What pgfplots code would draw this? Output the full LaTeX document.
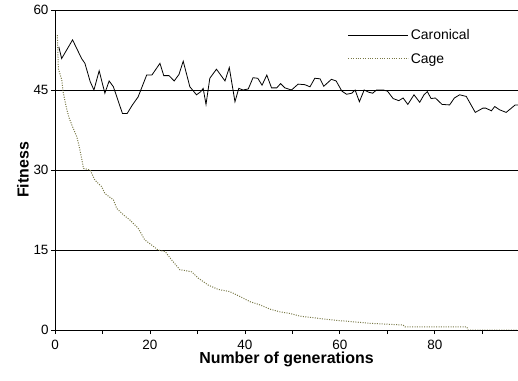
\documentclass[border=0pt]{standalone}
\usepackage{pgfplots}
\pgfplotsset{compat=1.18}
\usepackage{fontspec}
\setmainfont{Liberation Sans}
\definecolor{cagecol}{RGB}{120,120,70}
\begin{document}
\begin{tikzpicture}
\useasboundingbox (-55bp,-51bp) rectangle (463bp,330bp);
\begin{axis}[
  scale only axis, width=463bp, height=320bp,
  xmin=0, xmax=97.5, ymin=0, ymax=60,
  axis lines=left, axis line style={-, line width=0.9bp},
  xtick={0,20,40,60,80}, minor xtick={10,30,50,70,90},
  ytick={0,15,30,45,60},
  tick align=outside, major tick length=4bp, minor tick length=4bp,
  tick style={black, line width=0.9bp},
  ymajorgrids, grid style={black, line width=0.9bp},
  /pgf/number format/assume math mode=true,
  ticklabel style={font=\fontsize{13.5}{15}\selectfont},
  xticklabel style={anchor=base, inner sep=0pt, yshift=-15bp},
  yticklabel style={xshift=1bp},
  xlabel={\bfseries Number of generations},
  ylabel={\bfseries Fitness},
  label style={font=\fontsize{16}{18}\selectfont},
  xlabel style={at={(axis description cs:0.5,0)}, anchor=base, inner sep=0pt, yshift=-33bp},
  ylabel style={yshift=-2bp},
  legend style={at={(0.632,0.945)}, anchor=north west, draw=none, fill=none,
    font=\fontsize{14}{16}\selectfont, inner sep=0pt, row sep=8bp},
  legend cell align=left,
  legend image code/.code={\draw[#1] (0bp,0bp) -- (60bp,0bp);},
]
\addplot[black, line width=0.8bp] coordinates {
(0.8,53.1)(1.4,50.9)(3.7,54.4)(5.6,50.9)(6.3,50.0)(7.4,46.6)(8.2,45.0)(9.3,48.6)
(10.5,44.4)(11.4,46.7)(12.3,45.6)(14.2,40.6)(15.2,40.6)(16.3,42.2)(17.5,43.7)
(19.3,47.8)(20.4,47.8)(22.1,50.0)(22.9,47.7)(24.0,47.7)(25.1,46.7)(26.1,47.9)
(27.0,50.4)(28.4,45.6)(29.8,44.1)(30.7,44.7)(31.2,45.3)(31.8,42.3)(32.6,47.2)
(34.0,48.9)(35.8,46.7)(36.7,49.2)(37.9,42.8)(38.7,45.3)(39.6,45.0)(40.7,45.2)
(41.7,47.3)(42.7,47.2)(43.6,45.9)(44.6,47.8)(45.6,45.4)(46.7,45.4)(47.5,46.2)
(48.4,45.4)(49.8,45.0)(51.2,46.1)(52.6,46.0)(53.7,45.6)(54.7,47.2)(55.8,47.1)
(56.6,45.7)(58.2,47.0)(59.2,46.7)(60.4,44.8)(61.4,44.2)(62.5,44.4)(63.2,45.0)
(64.1,42.8)(65.1,45.0)(66.0,44.6)(66.9,44.4)(67.7,45.0)(69.1,45.0)(70.0,44.8)
(71.2,43.4)(72.4,43.0)(73.3,43.5)(74.3,42.3)(75.6,44.1)(76.8,42.7)(77.7,44.1)
(78.4,44.7)(79.2,43.4)(80.1,43.5)(81.5,42.3)(83.1,42.2)(84.1,43.5)(85.2,44.1)
(86.6,43.8)(88.5,40.8)(90.1,41.6)(90.7,41.6)(91.9,41.1)(92.6,41.9)(93.6,41.3)
(95.0,40.8)(96.1,41.6)(96.9,42.2)(97.5,42.2)
};
\addlegendentry{Caronical}
\addplot[cagecol, line width=1bp, dash pattern=on 1bp off 1.4bp] coordinates {
(0.5,55.3)(0.7,49.0)(1.4,47.0)(1.7,44.7)(1.9,43.8)(2.5,41.3)(3.0,39.7)(3.7,38.1)
(4.6,36.2)(5.1,34.4)(5.6,32.2)(6.0,30.3)(7.4,30.0)(8.4,28.1)(9.8,26.9)(10.5,25.6)
(12.3,24.4)(13.0,22.8)(14.4,21.6)(15.8,20.6)(17.5,19.1)(18.9,16.9)(20.4,15.9)
(21.7,15.0)(23.2,14.7)(24.6,13.1)(26.3,11.3)(27.7,11.1)(28.8,10.9)(30.2,9.7)
(32.3,8.4)(34.4,7.6)(36.8,7.2)(38.9,6.3)(41.1,5.3)(43.2,4.7)(45.3,3.9)(47.4,3.4)
(49.5,3.1)(51.6,2.6)(54.4,2.3)(57.2,2.0)(60.0,1.75)(62.1,1.6)(66.3,1.25)(69.8,1.1)
(73.3,0.94)(73.7,0.6)(86.7,0.6)(87.0,0.0)(97.5,0.0)
};
\addlegendentry{Cage}
\end{axis}
\end{tikzpicture}
\end{document}
